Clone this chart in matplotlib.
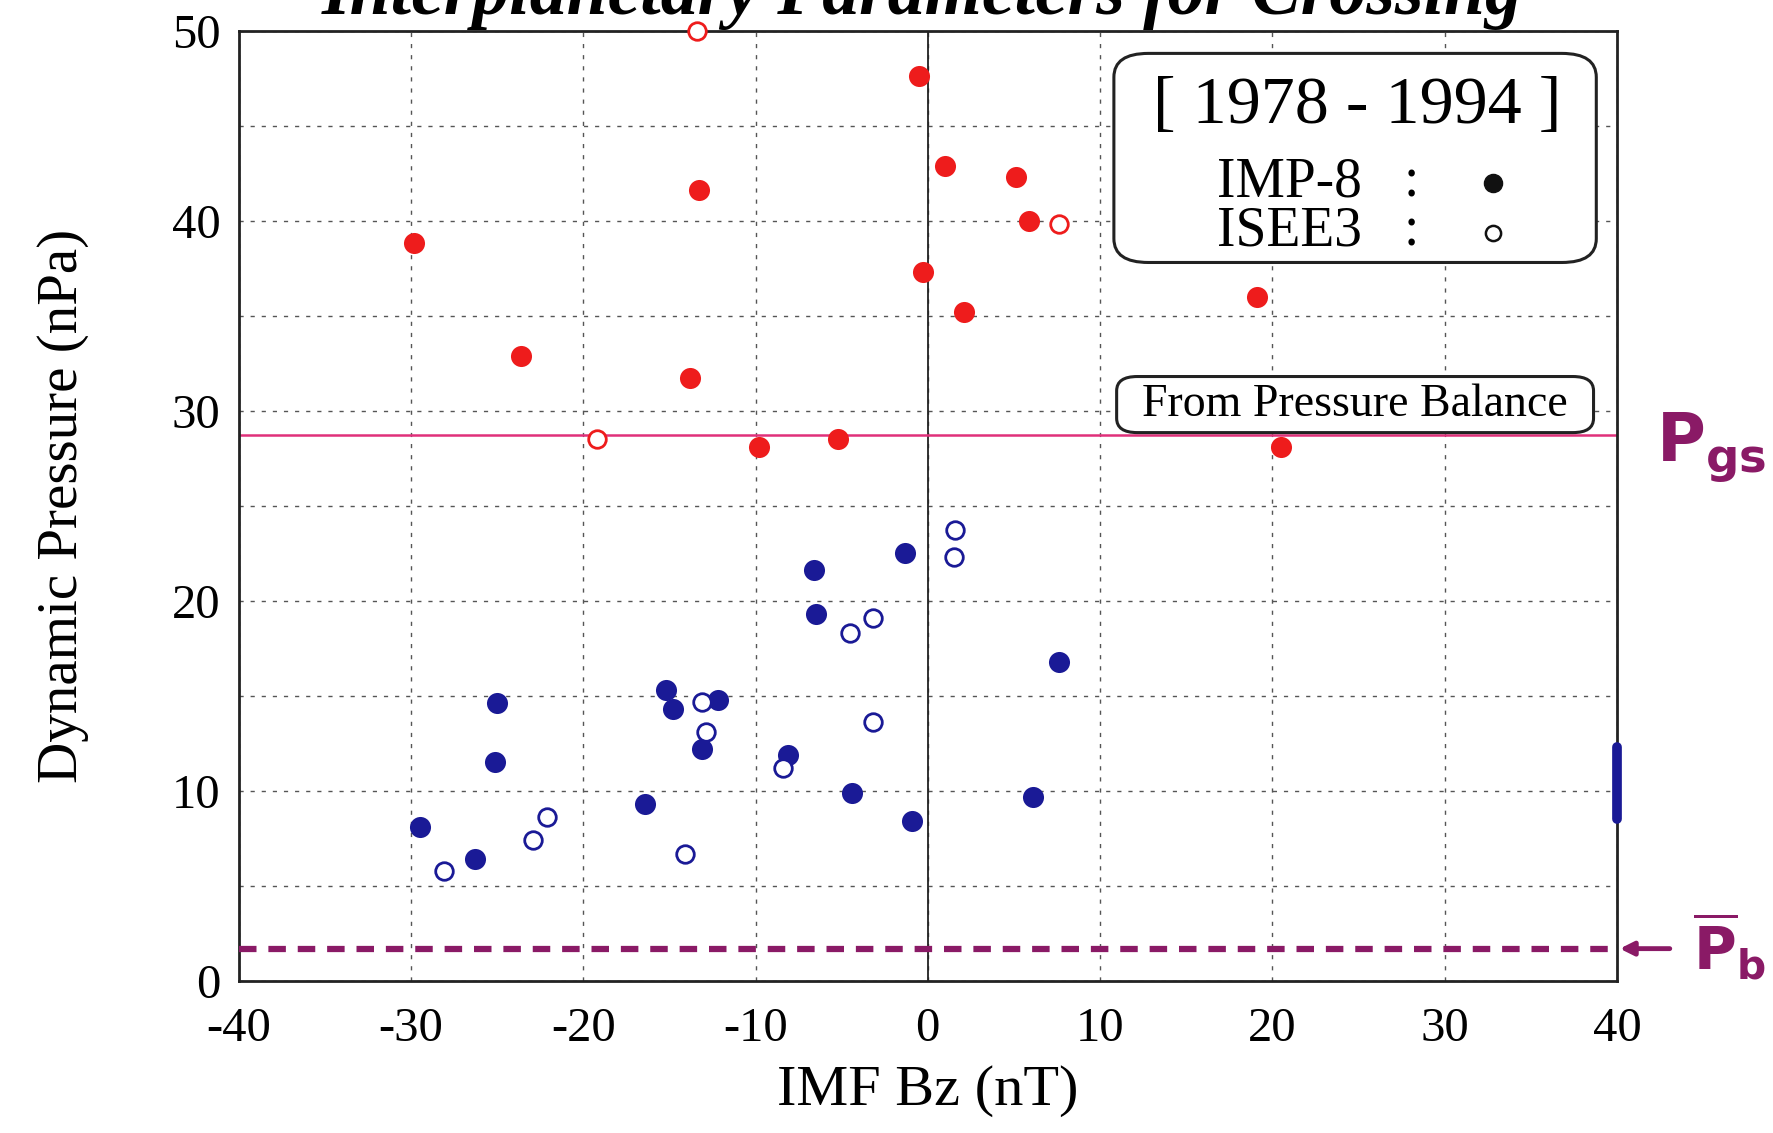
import matplotlib
matplotlib.use("Agg")
import matplotlib.pyplot as plt
from matplotlib.patches import FancyBboxPatch

# ---------------- data ----------------
imp8_high_bz = [-29.8, -23.6, -13.3, -13.8, -9.8, -5.2, -0.5, -0.3, 1.0, 2.1, 5.1, 5.9, 19.1, 20.5]
imp8_high_p = [38.8, 32.9, 41.6, 31.7, 28.1, 28.5, 47.6, 37.3, 42.9, 35.2, 42.3, 40.0, 36.0, 28.1]

isee3_high_bz = [-13.4, -19.2, 7.6]
isee3_high_p = [50.0, 28.5, 39.8]

imp8_low_bz = [-29.5, -26.3, -25.0, -25.1, -16.4, -15.2, -14.8, -13.1, -12.2, -8.1,
               -6.6, -6.5, -4.4, -1.3, -0.9, 6.1, 7.6]
imp8_low_p = [8.1, 6.4, 14.6, 11.5, 9.3, 15.3, 14.3, 12.2, 14.8, 11.9,
              21.6, 19.3, 9.9, 22.5, 8.4, 9.7, 16.8]

isee3_low_bz = [-28.1, -22.9, -22.1, -14.1, -13.1, -12.9, -8.4, -4.5, -3.2, -3.2, 1.5, 1.6]
isee3_low_p = [5.8, 7.4, 8.6, 6.7, 14.7, 13.1, 11.2, 18.3, 19.1, 13.6, 22.3, 23.7]

p_gs = 28.7          # from pressure balance
p_b_mean = 1.7       # hand-drawn dashed line
scribble_p = [8.5, 12.3]

x_ticks = [-40, -30, -20, -10, 0, 10, 20, 30, 40]
y_ticks = [0, 10, 20, 30, 40, 50]

title = "Interplanetary Parameters for Crossing"
period = "[ 1978 - 1994 ]"

# ---------------- style ----------------
RED = "#ee1c1c"
BLUE = "#1a1a96"
PINK = "#e0307a"
PURPLE = "#8a1a66"
SERIF = ["Liberation Serif", "DejaVu Serif"]

plt.rcParams["font.family"] = SERIF

fig = plt.figure(figsize=(17.73, 11.33), dpi=100)
ax = fig.add_axes([0.1346, 0.1342, 0.7774, 0.8388])

ax.set_xlim(-40, 40)
ax.set_ylim(0, 50)
ax.set_xticks(x_ticks)
ax.set_xticklabels([str(t) for t in x_ticks])
ax.set_yticks(y_ticks)
ax.set_yticks([5, 15, 25, 35, 45], minor=True)
ax.tick_params(axis="both", which="both", length=0, labelsize=35)
ax.tick_params(axis="x", pad=19)
ax.tick_params(axis="y", pad=13)
ax.grid(True, which="both", linestyle=(0, (3, 5)), color="#555555", linewidth=1.0)
for s in ax.spines.values():
    s.set_linewidth(2.0)
    s.set_color("#222222")

ax.axvline(0, color="#222222", linewidth=1.3, zorder=2)
ax.axhline(p_gs, color=PINK, linewidth=1.8, zorder=2)

ms_f = 230
ms_o = 160
ax.scatter(imp8_high_bz, imp8_high_p, s=ms_f, color=RED, zorder=4, clip_on=False, linewidths=0)
ax.scatter(isee3_high_bz, isee3_high_p, s=ms_o, facecolors="white", edgecolors=RED,
           linewidths=2.0, zorder=4, clip_on=False)
ax.scatter(imp8_low_bz, imp8_low_p, s=ms_f, color=BLUE, zorder=4, clip_on=False, linewidths=0)
ax.scatter(isee3_low_bz, isee3_low_p, s=ms_o, facecolors="white", edgecolors=BLUE,
           linewidths=2.0, zorder=4, clip_on=False)

# hand-drawn marks
ax.plot([x_ticks[0], x_ticks[-1]], [p_b_mean, p_b_mean], color=PURPLE, linewidth=4.5,
        linestyle=(0, (2.8, 1.9)), zorder=3, clip_on=False)
ax.plot([x_ticks[-1], x_ticks[-1]], scribble_p, color=BLUE, linewidth=7, zorder=5,
        clip_on=False, solid_capstyle="round")
ax.annotate("", xy=(x_ticks[-1], p_b_mean), xytext=(40, 0), textcoords="offset points",
            arrowprops=dict(arrowstyle="-|>,head_length=0.8,head_width=0.4", color=PURPLE,
                            lw=3.5), annotation_clip=False)

ax.set_xlabel("IMF Bz (nT)", fontsize=42, labelpad=10)
ax.set_ylabel("Dynamic Pressure (nPa)", fontsize=41, labelpad=60)

# title (cut off by the top of the page, as in the scanned original)
fig.text(0.520, 0.988, title, fontsize=53, fontweight="bold", fontstyle="italic",
         ha="center", va="baseline")

# legend box
ax.add_patch(FancyBboxPatch((0.645, 0.766), 0.33, 0.20,
                            boxstyle="round,pad=0.01,rounding_size=0.025",
                            transform=ax.transAxes, facecolor="white",
                            edgecolor="#222222", linewidth=2.2, zorder=6))
ax.text(0.8115, 0.920, period, transform=ax.transAxes, fontsize=49,
        ha="center", va="center", zorder=7)
ax.text(0.7095, 0.840, "IMP-8", transform=ax.transAxes, fontsize=40,
        ha="left", va="center", zorder=7)
ax.text(0.7095, 0.789, "ISEE3", transform=ax.transAxes, fontsize=40,
        ha="left", va="center", zorder=7)
ax.text(0.8506, 0.840, ":", transform=ax.transAxes, fontsize=40, ha="center", va="center", zorder=7)
ax.text(0.8506, 0.789, ":", transform=ax.transAxes, fontsize=40, ha="center", va="center", zorder=7)
ax.scatter([0.910], [0.840], s=170, color="#111111", transform=ax.transAxes, zorder=7)
ax.scatter([0.910], [0.787], s=120, facecolors="white", edgecolors="#111111",
           linewidths=1.8, transform=ax.transAxes, zorder=7)

# "From Pressure Balance" box
ax.add_patch(FancyBboxPatch((0.645, 0.585), 0.33, 0.043,
                            boxstyle="round,pad=0.008,rounding_size=0.015",
                            transform=ax.transAxes, facecolor="white",
                            edgecolor="#222222", linewidth=2.2, zorder=6))
ax.text(0.8095, 0.6065, "From Pressure Balance", transform=ax.transAxes, fontsize=33,
        ha="center", va="center", zorder=7)

# hand-written labels
fig.text(0.934, 0.605, r"$\mathbf{P}_{\mathbf{gs}}$", fontsize=48, color=PURPLE,
         ha="left", va="center", family=["DejaVu Sans"])
fig.text(0.955, 0.165, r"$\overline{\mathbf{P}}_{\mathbf{b}}$", fontsize=42, color=PURPLE,
         ha="left", va="center", family=["DejaVu Sans"])

fig.savefig("out.png", dpi=100, facecolor="white")
